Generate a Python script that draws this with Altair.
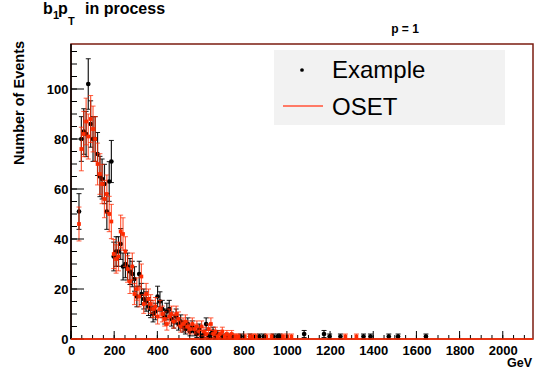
import altair as alt
import pandas as pd
import numpy as np

# Example (black) histogram: bin centres (GeV) and counts
ex_x = [37, 48, 59, 70, 80, 91, 102, 112, 123, 134, 144, 155, 166, 177, 187, 198, 209, 220, 230, 241,
        252, 262, 273, 284, 294, 305, 316, 326, 337, 348, 359, 369, 380, 391, 401, 412, 423, 434, 444, 455,
        466, 476, 487, 498, 508, 519, 530, 541, 551, 562, 573, 583, 594, 605, 616, 626, 637, 648, 658, 669,
        680, 701, 722, 744, 786, 829, 872, 893, 936, 957, 968, 1080, 1172, 1198, 1248, 1355, 1387, 1472, 1515, 1644]
ex_y = [51, 80, 83, 82, 102, 86, 80, 80, 74, 65, 64, 62, 51, 63, 71, 33, 35, 35, 38, 29,
        30, 29, 27, 26, 24, 17, 26, 18, 16, 15, 13, 12, 10, 11, 17, 15, 12, 9, 11, 12,
        8, 7, 9, 6, 7, 5, 4, 6, 3, 5, 3, 2, 4, 1, 2, 6, 1, 2, 3, 1,
        2, 1, 1, 1, 1, 1, 1, 1, 1, 1, 1, 2, 2, 1, 1, 1, 1, 1, 1, 1]

# OSET (red) histogram
os_x = [37, 48, 59, 70, 80, 91, 102, 112, 123, 134, 144, 155, 166, 177, 187, 198, 209, 220, 230, 241,
        252, 262, 273, 284, 294, 305, 316, 326, 337, 348, 359, 369, 380, 391, 401, 412, 423, 434, 444, 455,
        466, 476, 487, 498, 508, 519, 530, 541, 551, 562, 573, 583, 594, 605, 616, 626, 637, 648, 658, 669,
        680, 690, 701, 712, 722, 733, 744, 754, 765, 776, 805, 829, 845, 856, 905, 929, 982, 1001, 1021, 1271, 1322]
os_y = [46, 76, 82, 87, 81, 88, 84, 80, 70, 66, 62, 56, 58, 50, 47, 34, 32, 33, 43, 42,
        35, 28, 23, 29, 18, 20, 17, 25, 14, 18, 16, 14, 12, 13, 9, 12, 10, 8, 6, 9,
        10, 7, 10, 8, 5, 6, 7, 5, 4, 6, 4, 5, 3, 5, 3, 2, 4, 6, 2, 3,
        1, 2, 3, 1, 2, 1, 2, 1, 1, 1, 1, 1, 1, 1, 1, 1, 1, 1, 1, 1, 1]

x_ticks = [0, 200, 400, 600, 800, 1000, 1200, 1400, 1600, 1800, 2000]
y_ticks = [0, 20, 40, 60, 80, 100]
x_minor = list(range(0, 2141, 50))
y_minor = list(range(0, 116, 5))

FONT = "Liberation Sans"
RED = "#ff2a00"


def table(xs, ys):
    df = pd.DataFrame({"x": xs, "y": ys})
    e = np.sqrt(df["y"].astype(float))
    df["lo"] = df["y"] - e
    df["hi"] = df["y"] + e
    return df


ex_df = table(ex_x, ex_y)
os_df = table(os_x, os_y)

xs = alt.Scale(domain=[0, 2140], nice=False, zero=False)
ys = alt.Scale(domain=[0, 118], nice=False)
xa = alt.Axis(values=x_ticks, format="d", labelFont=FONT, labelFontWeight="bold", labelFontSize=13,
              labelColor="black", labelPadding=5, ticks=False, domain=False, grid=False, title=None,
              labelFlush=False, labelOverlap=False)
ya = alt.Axis(values=y_ticks, format="d", labelFont=FONT, labelFontWeight="bold", labelFontSize=13,
              labelColor="black", labelPadding=3, ticks=False, domain=False, grid=False, title=None,
              labelOverlap=False)


def X(f="x"):
    return alt.X(f"{f}:Q", scale=xs, axis=xa)


def Y(f="y"):
    return alt.Y(f"{f}:Q", scale=ys, axis=ya)


def series(df, color, shape, size, opacity):
    base = alt.Chart(df)
    bars = base.mark_rule(color=color, strokeWidth=1.2, opacity=opacity).encode(
        x=X(), y=Y("lo"), y2="hi")
    cap_lo = base.mark_tick(color=color, orient="horizontal", size=5, thickness=1, opacity=opacity).encode(
        x=X(), y=Y("lo"))
    cap_hi = base.mark_tick(color=color, orient="horizontal", size=5, thickness=1, opacity=opacity).encode(
        x=X(), y=Y("hi"))
    pts = base.mark_point(color=color, filled=True, shape=shape, size=size, opacity=1).encode(
        x=X(), y=Y())
    return [bars, cap_lo, cap_hi, pts]


# axis tick marks drawn inward (ROOT style)
ytm = alt.Chart(pd.DataFrame({"v": y_ticks})).mark_rule(color="black").encode(
    y=Y("v"), x=alt.value(0), x2=alt.value(13))
ytn = alt.Chart(pd.DataFrame({"v": y_minor})).mark_rule(color="black").encode(
    y=Y("v"), x=alt.value(0), x2=alt.value(6))
xtm = alt.Chart(pd.DataFrame({"v": x_ticks})).mark_rule(color="black").encode(
    x=X("v"), y=alt.value(295), y2=alt.value(287))
xtn = alt.Chart(pd.DataFrame({"v": x_minor})).mark_rule(color="black").encode(
    x=X("v"), y=alt.value(295), y2=alt.value(291))

left_line = alt.Chart(pd.DataFrame({"v": [0]})).mark_rule(color="black", strokeWidth=1.5).encode(
    x=alt.value(0), y=alt.value(0), y2=alt.value(295))
zero_line = alt.Chart(pd.DataFrame({"v": [0]})).mark_rule(color=RED, strokeWidth=1.5).encode(
    y=Y("v"), x=alt.value(0), x2=alt.value(462))

# legend
leg_box = alt.Chart(pd.DataFrame({"v": [0]})).mark_rect(color="#f2f2f2").encode(
    x=alt.value(203), x2=alt.value(434), y=alt.value(6), y2=alt.value(81))
leg_dot = alt.Chart(pd.DataFrame({"v": [0]})).mark_point(filled=True, color="black", size=14, opacity=1).encode(
    x=alt.value(231), y=alt.value(26))
leg_line = alt.Chart(pd.DataFrame({"v": [0]})).mark_rule(color="#ff7a66", strokeWidth=2).encode(
    x=alt.value(212), x2=alt.value(252), y=alt.value(62))


def label(text, x, y, size, weight="normal", align="left", baseline="middle", angle=0):
    kw = dict(text=text, font=FONT, fontSize=size, fontWeight=weight, align=align,
              baseline=baseline, color="black")
    if angle:
        kw["angle"] = angle
    return alt.Chart(pd.DataFrame({"v": [0]})).mark_text(**kw).encode(
        x=alt.value(x), y=alt.value(y))


texts = [
    label("Example", 261, 27, 24),
    label("OSET", 261, 64, 24),
    label("b", -28, -30, 16, "bold", baseline="alphabetic"),
    label("1", -18, -25, 11, "bold", baseline="alphabetic"),
    label("p", -13, -30, 16, "bold", baseline="alphabetic"),
    label("T", -3, -19, 11, "bold", baseline="alphabetic"),
    label("in process", 14, -30, 16, "bold", baseline="alphabetic"),
    label("p = 1", 334, -15, 12, "bold", align="center"),
    label("Number of Events", -51, 59, 14.5, "bold", align="center", angle=270),
    label("GeV", 461, 319, 12.5, "bold", align="right"),
]

layers = [leg_box, leg_dot, leg_line] + series(ex_df, "black", "circle", 22, 0.9) + \
    series(os_df, RED, "square", 14, 0.75) + [ytm, ytn, xtm, xtn, left_line, zero_line] + texts

chart = alt.layer(*layers).properties(
    width=462, height=295,
    autosize=alt.AutoSizeParams(type="none"),
    padding={"left": 71, "top": 44, "right": 1, "bottom": 32},
    background="white",
).configure_view(stroke="#7b1c10", strokeWidth=1.5)

chart.save("out.html", embed_options={"renderer": "svg", "actions": False})
